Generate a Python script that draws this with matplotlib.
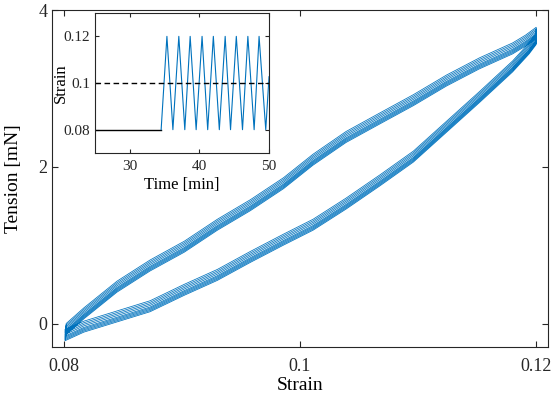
import numpy as np
import matplotlib.pyplot as plt

plt.rcParams['font.family'] = ['Liberation Serif', 'DejaVu Serif']
plt.rcParams['axes.edgecolor'] = '#262626'
plt.rcParams['xtick.color'] = '#262626'
plt.rcParams['ytick.color'] = '#262626'

blue = '#0072BD'

# loading branch (strain goes up)
load_strain = [0.0801, 0.0817, 0.0845, 0.0873, 0.0902, 0.0930, 0.0958, 0.0986, 0.1011,
               0.1039, 0.1068, 0.1096, 0.1124, 0.1152, 0.1180, 0.1194, 0.1200]
load_tension = [-0.16, -0.05, 0.08, 0.21, 0.42, 0.61, 0.84, 1.06, 1.25,
                1.52, 1.82, 2.12, 2.50, 2.88, 3.27, 3.50, 3.62]

# unloading branch (strain goes down)
unload_strain = [0.1200, 0.1191, 0.1180, 0.1152, 0.1124, 0.1096, 0.1068, 0.1039, 0.1011,
                 0.0986, 0.0958, 0.0930, 0.0902, 0.0873, 0.0845, 0.0817, 0.0802]
unload_tension = [3.70, 3.60, 3.50, 3.31, 3.09, 2.84, 2.61, 2.37, 2.08,
                  1.78, 1.50, 1.25, 0.97, 0.73, 0.46, 0.12, -0.08]

# tension offset of each of the 9 cycles (slow relaxation)
cycle_shift = [0.08, 0.06, 0.04, 0.02, 0.0, -0.015, -0.03, -0.045, -0.06]

# inset: imposed strain protocol
hold_time = [25, 34.5]
hold_strain = [0.08, 0.08]
tri_time = [34.5, 35.33, 36.19, 37.04, 37.9, 38.67, 39.53, 40.38, 41.19, 42.0, 42.86,
            43.7, 44.47, 45.3, 46.19, 46.96, 47.86, 48.57, 49.53, 50.0]
tri_strain = [0.08, 0.12, 0.08, 0.12, 0.08, 0.12, 0.08, 0.12, 0.08, 0.12, 0.08,
              0.12, 0.08, 0.12, 0.08, 0.12, 0.08, 0.12, 0.08, 0.1027]
mean_strain = 0.1

xs, ys = [], []
for s in cycle_shift:
    xs += load_strain + unload_strain
    ys += list(np.array(load_tension) + s) + list(np.array(unload_tension) + s)

fig = plt.figure(figsize=(5.54, 3.96), dpi=100)
ax = fig.add_axes([0.0939, 0.1237, 0.8953, 0.851])
ax.plot(xs, ys, color=blue, lw=0.55)
ax.set_xlim(0.079, 0.121)
ax.set_ylim(-0.3, 4)
ax.set_xticks([0.08, 0.1, 0.12])
ax.set_xticklabels(['0.08', '0.1', '0.12'])
ax.set_yticks([0, 2, 4])
ax.tick_params(direction='in', top=True, right=True, labelsize=13, length=4, width=0.8)
ax.tick_params(axis='x', pad=8)
ax.set_xlabel('Strain', fontsize=14)
ax.xaxis.set_label_coords(0.5, -0.089)
ax.set_ylabel('Tension [mN]', fontsize=14)
ax.yaxis.set_label_coords(-0.06, 0.5)
for sp in ax.spines.values():
    sp.set_linewidth(0.8)

ins = fig.add_axes([0.1715, 0.6136, 0.3141, 0.3535])
ins.plot(hold_time, hold_strain, color='k', lw=1)
ins.plot(tri_time, tri_strain, color=blue, lw=0.8)
ins.axhline(mean_strain, color='k', ls='--', lw=1, dashes=(4, 2.5))
ins.set_xlim(25, 50)
ins.set_ylim(0.07, 0.13)
ins.set_xticks([30, 40, 50])
ins.set_yticks([0.08, 0.1, 0.12])
ins.set_yticklabels(['0.08', '0.1', '0.12'])
ins.tick_params(direction='in', top=True, right=True, labelsize=11, length=3, width=0.8)
ins.tick_params(axis='x', pad=5)
ins.set_xlabel('Time [min]', fontsize=12)
ins.xaxis.set_label_coords(0.5, -0.17)
ins.set_ylabel('Strain', fontsize=12)
ins.yaxis.set_label_coords(-0.15, 0.5)
for sp in ins.spines.values():
    sp.set_linewidth(0.8)

fig.savefig('out.png', dpi=100)
